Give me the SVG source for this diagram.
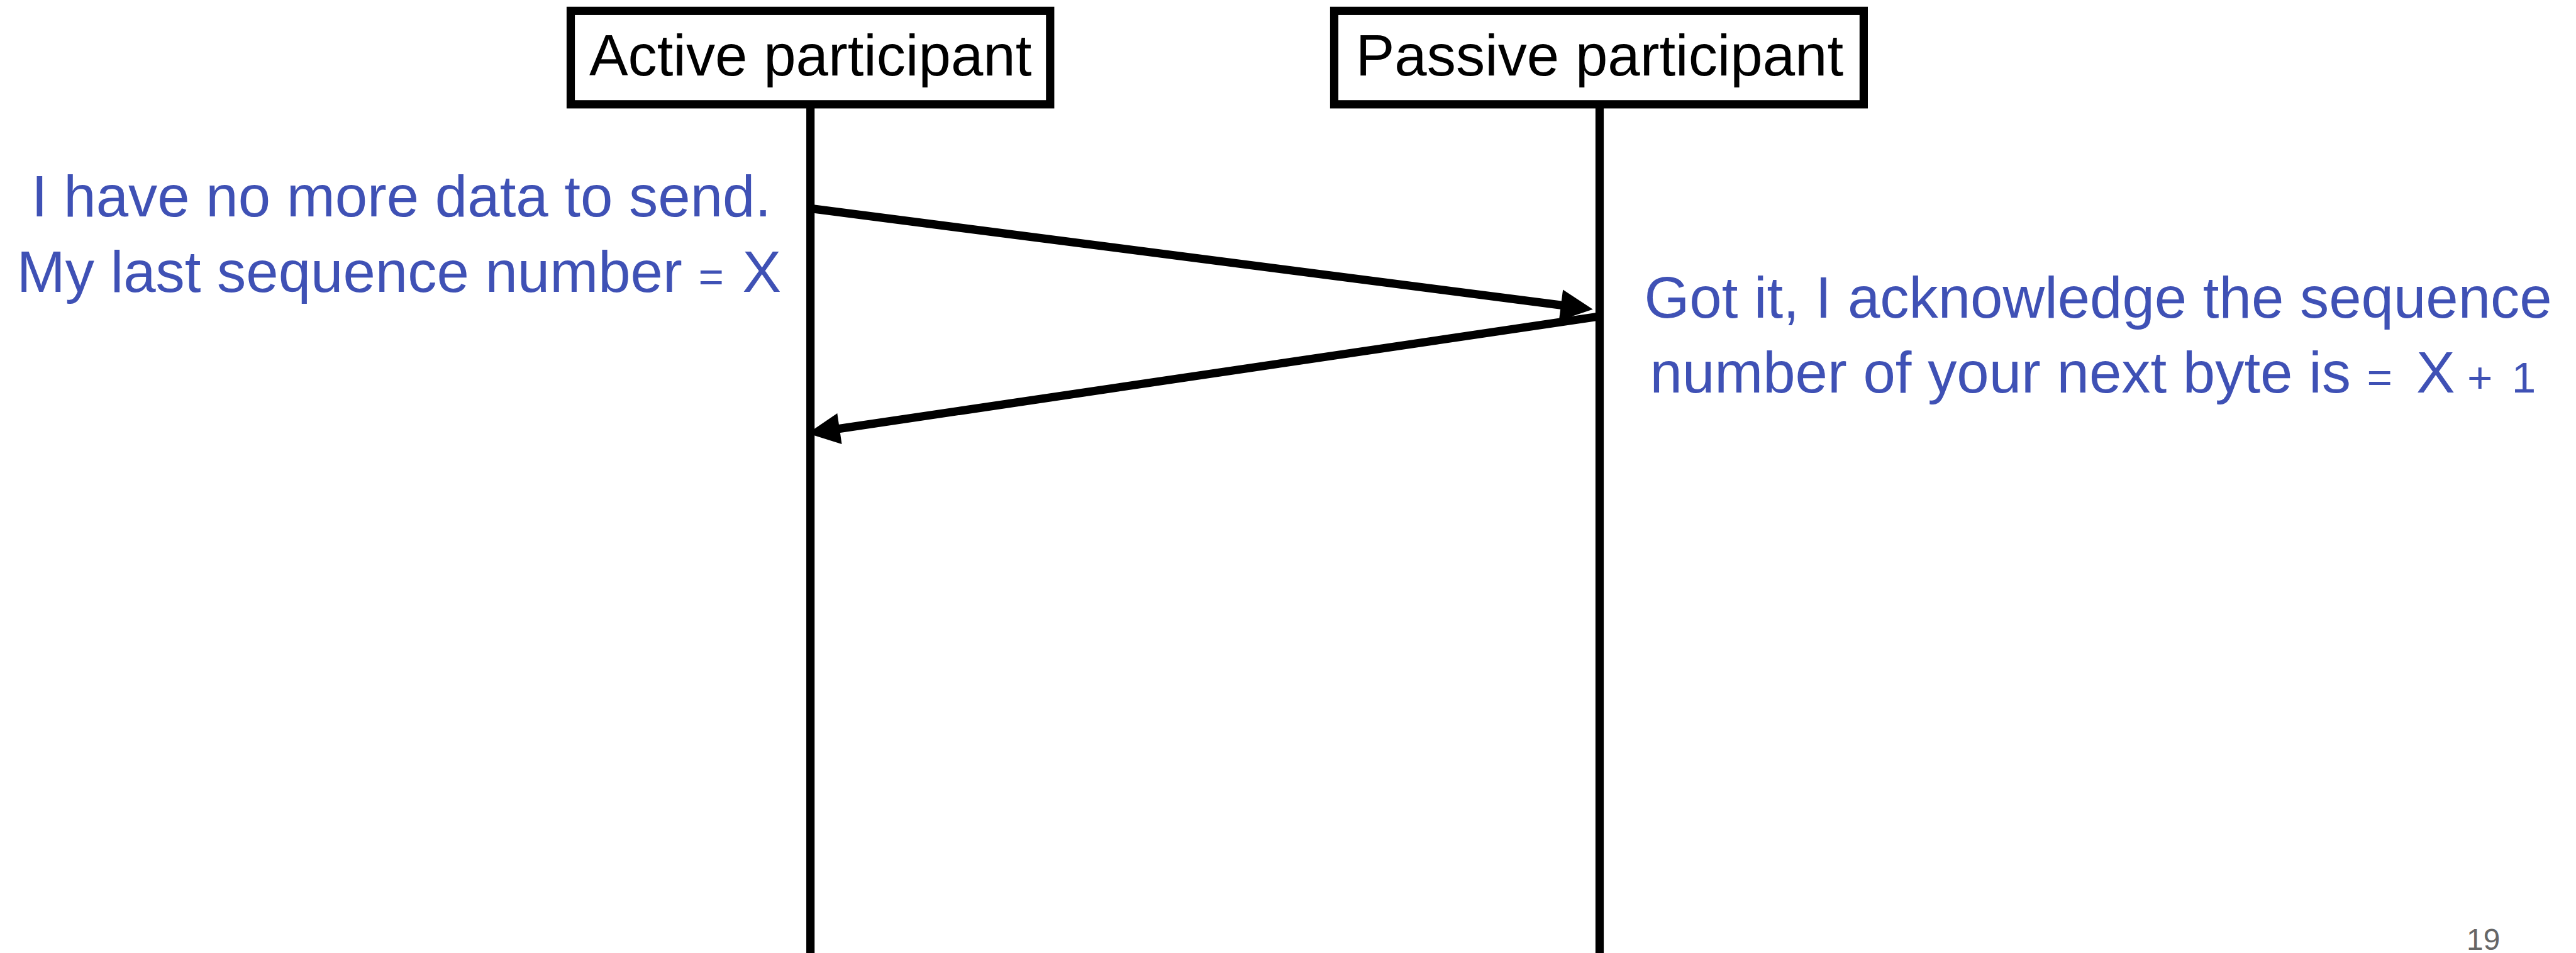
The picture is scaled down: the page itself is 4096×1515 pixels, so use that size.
<svg xmlns="http://www.w3.org/2000/svg" width="4096" height="1515" viewBox="0 0 4096 1515">
  <style>
    .box { fill: #ffffff; stroke: #000000; stroke-width: 16; }
    .life { stroke: #000000; stroke-width: 16; fill: none; }
    .msg { stroke: #000000; stroke-width: 16; fill: none; marker-end: url(#head); }
    .title { font-family: "Liberation Sans", Arial, Helvetica, sans-serif; font-size: 112px; fill: #000000; }
    .note { font-family: "Liberation Sans", Arial, Helvetica, sans-serif; font-size: 112px; fill: #3F51B5; }
    .small { font-size: 84px; }
    .page { font-family: "Liberation Sans", Arial, Helvetica, sans-serif; font-size: 58px; fill: #666666; }
  </style>
  <defs>
    <marker id="head" markerUnits="userSpaceOnUse" orient="auto" refX="12" refY="0" markerWidth="70" markerHeight="70" overflow="visible">
      <path d="M62,0 L0,-30 L0,30 Z" fill="#000000"/>
    </marker>
  </defs>
  <rect width="4096" height="1515" fill="#ffffff"/>
  <g transform="scale(0.825)">
    <g id="active">
      <line class="life" x1="1562" y1="205" x2="1562" y2="1840"/>
      <rect class="box" x="1100" y="21" width="924" height="180"/>
      <text class="title" x="1562" y="145" text-anchor="middle">Active participant</text>
    </g>
    <g id="passive">
      <line class="life" x1="3083" y1="205" x2="3083" y2="1840"/>
      <rect class="box" x="2571.5" y="21" width="1020.5" height="180"/>
      <text class="title" x="3083" y="145" text-anchor="middle">Passive participant</text>
    </g>
    <g id="connectors">
      <line class="msg" x1="1562" y1="401.7" x2="3020.4" y2="589.6"/>
      <line class="msg" x1="3083" y1="609.5" x2="1606.2" y2="827.7"/>
    </g>
    <g id="fin-note">
      <text class="note" x="60.5" y="417">I have no more data to send.</text>
      <text class="note" x="32.5" y="562">My last sequence number <tspan class="small">=</tspan><tspan x="1431">X</tspan></text>
    </g>
    <g id="ack-note">
      <text class="note" x="3169" y="612">Got it, I acknowledge the sequence</text>
      <text class="note" x="3180" y="756">number of your next byte is <tspan class="small">=</tspan><tspan x="4657">X</tspan><tspan class="small" x="4755">+</tspan><tspan class="small" x="4841">1</tspan></text>
    </g>
    <text class="page" x="4754" y="1830">19</text>
  </g>
</svg>
